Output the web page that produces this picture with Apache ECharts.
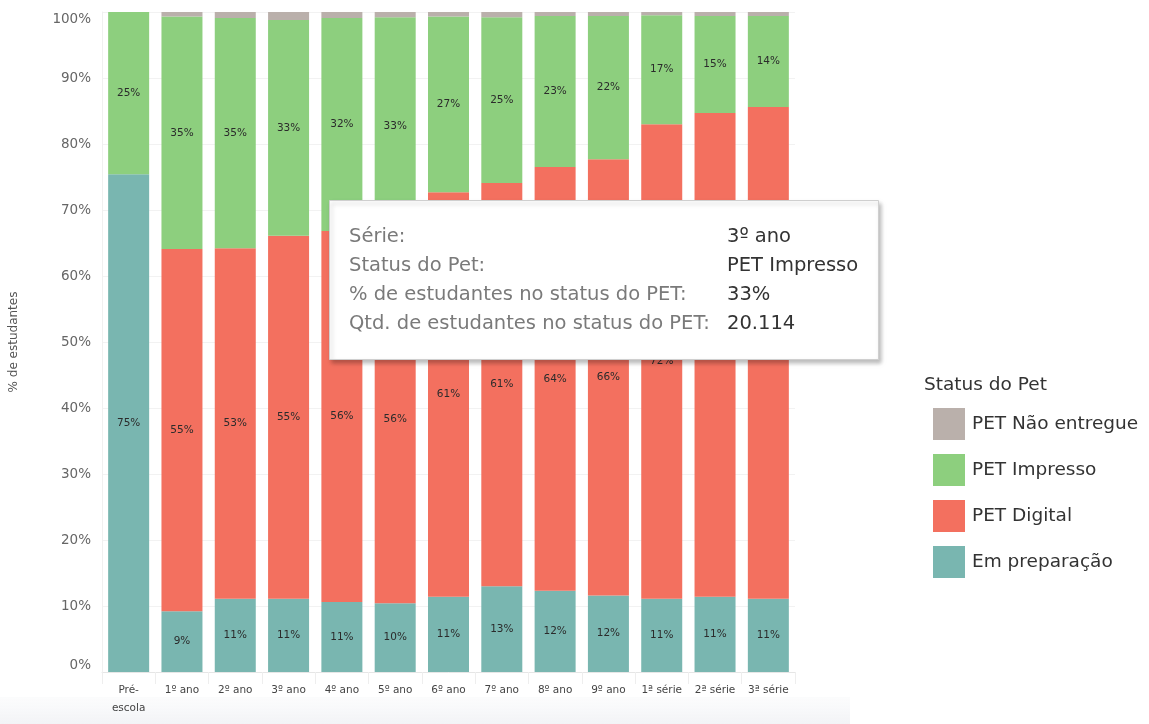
<!DOCTYPE html>
<html>
<head>
<meta charset="utf-8">
<script src="https://cdn.jsdelivr.net/npm/echarts@6/dist/echarts.min.js"></script>
<style>
  html, body { margin: 0; padding: 0; background: #fff; }
  #chart { width: 1149px; height: 724px; }
</style>
</head>
<body>
<div id="chart"></div>
<script>
  // séries (ordem do eixo x)
  const categorias = ['Pré-\nescola', '1º ano', '2º ano', '3º ano', '4º ano', '5º ano', '6º ano',
    '7º ano', '8º ano', '9º ano', '1ª série', '2ª série', '3ª série'];

  // % de estudantes em cada status do PET
  const emPreparacao = [75.4, 9.2, 11.1, 11.1, 10.6, 10.4, 11.4, 13.0, 12.3, 11.6, 11.1, 11.4, 11.1];
  const petDigital = [0, 54.9, 53.1, 55.0, 56.2, 55.8, 61.3, 61.1, 64.2, 66.1, 71.9, 73.3, 74.5];
  const petImpresso = [24.6, 35.2, 34.9, 32.7, 32.3, 33.0, 26.6, 25.1, 22.9, 21.7, 16.5, 14.7, 13.8];
  const petNaoEntregue = [0, 0.7, 0.9, 1.2, 0.9, 0.8, 0.7, 0.8, 0.6, 0.6, 0.5, 0.6, 0.6];

  const yTicks = [0, 10, 20, 30, 40, 50, 60, 70, 80, 90, 100];

  // tooltip fixo mostrado na imagem (3º ano / PET Impresso)
  const tipIndex = 3;
  const tipQtd = '20.114';

  const cores = {
    'PET Não entregue': '#bab0ab',
    'PET Impresso': '#8dcf7e',
    'PET Digital': '#f3705f',
    'Em preparação': '#79b6b0'
  };

  const fonte = '"DejaVu Sans", "Noto Sans", sans-serif';

  const chart = echarts.init(document.getElementById('chart'));

  const rotulo = {
    show: true,
    position: 'inside',
    fontSize: 10.5,
    color: '#2b2b2b',
    fontFamily: fonte,
    formatter: p => p.value > 0 ? Math.round(p.value) + '%' : ''
  };

  function serie(nome, dados, comRotulo) {
    return {
      name: nome,
      type: 'bar',
      stack: 'total',
      barWidth: 41,
      data: dados,
      itemStyle: { color: cores[nome] },
      label: comRotulo ? rotulo : { show: false },
      emphasis: { disabled: true }
    };
  }

  const linhas = [
    ['Série:', categorias[tipIndex]],
    ['Status do Pet:', 'PET Impresso'],
    ['% de estudantes no status do PET:', Math.round(petImpresso[tipIndex]) + '%'],
    ['Qtd. de estudantes no status do PET:', tipQtd]
  ];

  const tipTextos = [];
  linhas.forEach((l, i) => {
    const y = 237 + i * 29;
    tipTextos.push({
      type: 'text', x: 349, y: y, z: 101,
      style: { text: l[0], fontSize: 19.5, fill: '#7a7a7a', fontFamily: fonte, verticalAlign: 'middle' }
    });
    tipTextos.push({
      type: 'text', x: 727, y: y, z: 101,
      style: { text: l[1], fontSize: 19.5, fill: '#333', fontFamily: fonte, verticalAlign: 'middle' }
    });
  });

  const option = {
    animation: false,
    textStyle: { fontFamily: fonte },
    grid: { left: 101, right: 354, top: 12, bottom: 52 },
    legend: {
      orient: 'vertical',
      left: 928,
      top: 403,
      itemWidth: 32,
      itemHeight: 32,
      itemGap: 14,
      icon: 'rect',
      data: ['PET Não entregue', 'PET Impresso', 'PET Digital', 'Em preparação'],
      textStyle: { fontSize: 18.5, color: '#333', fontFamily: fonte, padding: [0, 0, 0, 2] },
      selectedMode: false
    },
    title: {
      text: 'Status do Pet',
      left: 919,
      top: 371,
      textStyle: { fontSize: 18.5, fontWeight: 'normal', color: '#333', fontFamily: fonte }
    },
    xAxis: {
      type: 'category',
      data: categorias,
      axisLine: { lineStyle: { color: '#e6e6e6' } },
      axisTick: { show: true, length: 12, lineStyle: { color: '#eeeeee' } },
      axisLabel: {
        interval: 0,
        fontSize: 10.5,
        color: '#444',
        margin: 9,
        lineHeight: 18,
        verticalAlign: 'top'
      }
    },
    yAxis: {
      type: 'value',
      min: yTicks[0],
      max: yTicks[yTicks.length - 1],
      interval: 10,
      name: '% de estudantes',
      nameLocation: 'middle',
      nameGap: 82,
      nameTextStyle: { fontSize: 12, color: '#555' },
      axisLine: { show: true, lineStyle: { color: '#f0f0f0' } },
      axisTick: { show: false },
      splitLine: { lineStyle: { color: '#f2f2f2' } },
      axisLabel: {
        fontSize: 13.5,
        color: '#666',
        margin: 11,
        formatter: '{value}%',
        verticalAlignMinLabel: 'bottom',
        verticalAlignMaxLabel: 'top'
      }
    },
    series: [
      serie('Em preparação', emPreparacao, true),
      serie('PET Digital', petDigital, true),
      serie('PET Impresso', petImpresso, true),
      serie('PET Não entregue', petNaoEntregue, false)
    ],
    graphic: [
      {
        type: 'rect', left: 0, top: 697, z: -1, silent: true,
        shape: { width: 850, height: 27 },
        style: {
          fill: new echarts.graphic.LinearGradient(0, 0, 0, 1, [
            { offset: 0, color: 'rgba(246,247,249,0.4)' },
            { offset: 1, color: 'rgba(242,243,246,1)' }
          ])
        }
      },
      {
        type: 'rect', left: 329, top: 200, z: 100,
        shape: { width: 549, height: 159 },
        style: {
          fill: '#fff', stroke: '#cfcfcf', lineWidth: 1,
          shadowBlur: 4, shadowOffsetX: 2, shadowOffsetY: 3, shadowColor: 'rgba(0,0,0,0.25)'
        }
      }
    ].concat(tipTextos)
  };

  chart.setOption(option);
</script>
</body>
</html>
